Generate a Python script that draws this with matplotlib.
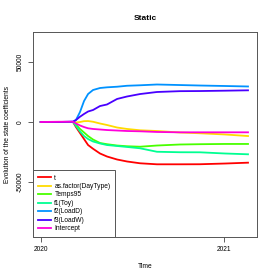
import numpy as np
import matplotlib.pyplot as plt

plt.rcParams['font.family'] = ['Liberation Sans', 'DejaVu Sans']

# time in decimal years
time = [2020.00, 2020.10, 2020.176, 2020.192, 2020.214, 2020.236, 2020.258,
        2020.285, 2020.323, 2020.361, 2020.416, 2020.470, 2020.541,
        2020.633, 2020.758, 2020.867, 2021.004, 2021.129]

coef_t = [0, 0, 0, -4200, -9200, -14200, -19200, -22300, -26250, -28750,
          -31250, -32900, -34400, -35250, -35250, -35200, -34600, -33900]
coef_daytype = [0, 0, 0, -400, 0, 700, 800, 200, -1250, -2500,
                -4600, -5800, -6900, -7500, -8750, -9400, -10400, -11700]
coef_temps95 = [0, 0, 0, -2100, -5800, -8750, -11700, -14600, -17500, -18500,
                -19600, -20200, -20600, -19600, -18750, -18500, -18300, -18300]
coef_toy = [0, 0, 0, -3300, -7900, -11700, -14200, -16250, -17900, -19200,
            -20000, -20800, -21900, -24800, -25200, -25250, -26250, -26900]
coef_loadd = [0, 0, 0, 1667, 8333, 17500, 23333, 26667, 28333, 28900,
              29400, 30200, 30600, 31250, 30800, 30400, 30000, 29600]
coef_loadw = [0, 0, 400, 1667, 4400, 6700, 8750, 10000, 13300, 14600,
              19200, 21250, 23300, 25000, 25700, 25800, 26100, 26400]
coef_intercept = [0, 200, 200, -1250, -2900, -4200, -5250, -5800, -6250, -6700,
                  -7100, -7500, -7750, -8300, -8600, -8600, -8600, -8600]

labels = ['t', 'as.factor(DayType)', 'Temps95', 'f1(Toy)', 'f2(LoadD)',
          'f3(LoadW)', 'Intercept']
series = [coef_t, coef_daytype, coef_temps95, coef_toy, coef_loadd,
          coef_loadw, coef_intercept]
# R rainbow(7)
colors = ['#FF0000', '#FFDB00', '#49FF00', '#00FF92', '#0092FF', '#4900FF', '#FF00DB']

fig = plt.figure(figsize=(2.73, 2.78), dpi=100)
ax = fig.add_axes([33/273, 41/278, 224/273, 205/278])

for vals, lab, col in zip(series, labels, colors):
    ax.plot(time, vals, color=col, lw=1.3, label=lab)

ax.set_xlim(2019.958, 2021.178)
ax.set_ylim(-95833, 75000)
ax.set_xticks([2020, 2021])
ax.set_xticklabels(['2020', '2021'])
ax.set_yticks([-50000, 0, 50000])
ax.set_yticklabels(['-50000', '0', '50000'], rotation=90, va='center')
ax.tick_params(labelsize=4.8, length=3.5, width=0.6, color='#444444', pad=3)
for s in ax.spines.values():
    s.set_color('#555555')
    s.set_linewidth(0.7)

ax.set_title('Static', fontsize=6, fontweight='bold', pad=9)
ax.set_xlabel('Time', fontsize=4.8, labelpad=7)
ax.set_ylabel('Evolution of the state coefficients', fontsize=4.8, labelpad=4)

leg = ax.legend(loc='lower left', bbox_to_anchor=(0, 0), borderaxespad=0,
                fontsize=4.8, frameon=True, fancybox=False, framealpha=1,
                labelspacing=0.22, handlelength=2.0, handletextpad=0.5,
                borderpad=0.7)
leg.get_frame().set_edgecolor('#555555')
leg.get_frame().set_linewidth(0.7)

fig.savefig('out.png', dpi=100)
